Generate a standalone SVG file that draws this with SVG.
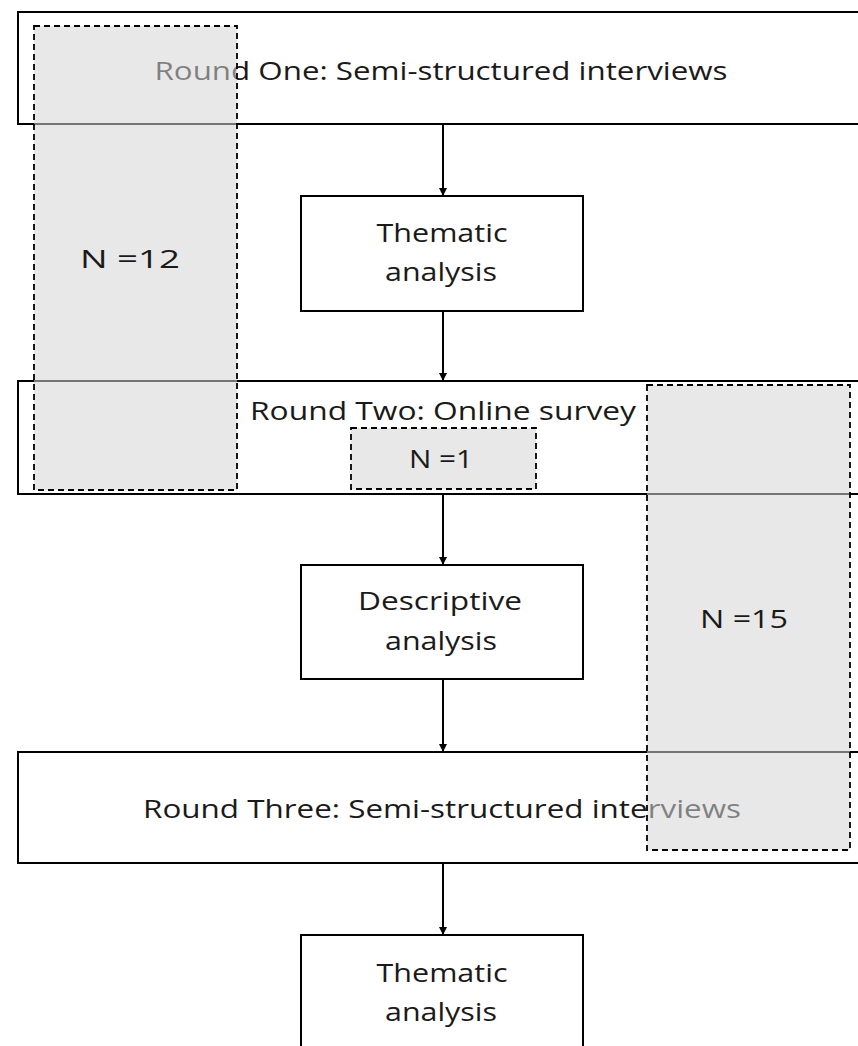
<svg xmlns="http://www.w3.org/2000/svg" width="858" height="1046" viewBox="0 0 858 1046">
<style>
.box{fill:#fff;stroke:#000;stroke-width:2}
.grp{fill:#d6d6d6;fill-opacity:0.55;stroke:#000;stroke-width:1.8;stroke-dasharray:6 4}
.t{font-family:"Open Sans","Liberation Sans",sans-serif;font-size:26px;fill:#1a1a1a;text-anchor:middle}
.ln{stroke:#000;stroke-width:2;fill:none}
</style>
<defs>
<marker id="ah" markerWidth="8" markerHeight="8" refX="7" refY="4" orient="auto" markerUnits="userSpaceOnUse">
<path d="M0,0 L8,4 L0,8 Z" fill="#000"/>
</marker>
</defs>
<rect width="858" height="1046" fill="#fff"/>
<g id="connectors">
<line class="ln" x1="443" y1="124" x2="443" y2="195" marker-end="url(#ah)"/>
<line class="ln" x1="443" y1="311" x2="443" y2="380" marker-end="url(#ah)"/>
<line class="ln" x1="443" y1="494" x2="443" y2="564" marker-end="url(#ah)"/>
<line class="ln" x1="443" y1="679" x2="443" y2="751" marker-end="url(#ah)"/>
<line class="ln" x1="443" y1="863" x2="443" y2="934" marker-end="url(#ah)"/>
</g>
<g id="round1">
<rect class="box" x="18" y="12" width="850" height="112"/>
<text class="t" x="441" y="80" textLength="573" lengthAdjust="spacingAndGlyphs">Round One: Semi-structured interviews</text>
</g>
<g id="thematic1">
<rect class="box" x="301" y="196" width="282" height="115"/>
<text class="t" x="442" y="242" textLength="131" lengthAdjust="spacingAndGlyphs">Thematic</text>
<text class="t" x="441" y="281" textLength="112" lengthAdjust="spacingAndGlyphs">analysis</text>
</g>
<g id="round2">
<rect class="box" x="18" y="381" width="850" height="113"/>
<text class="t" x="443" y="420" textLength="386" lengthAdjust="spacingAndGlyphs">Round Two: Online survey</text>
</g>
<g id="descriptive">
<rect class="box" x="301" y="565" width="282" height="114"/>
<text class="t" x="440" y="610" textLength="164" lengthAdjust="spacingAndGlyphs">Descriptive</text>
<text class="t" x="441" y="650" textLength="112" lengthAdjust="spacingAndGlyphs">analysis</text>
</g>
<g id="round3">
<rect class="box" x="18" y="752" width="850" height="111"/>
<text class="t" x="442" y="818" textLength="598" lengthAdjust="spacingAndGlyphs">Round Three: Semi-structured interviews</text>
</g>
<g id="thematic2">
<rect class="box" x="301" y="935" width="282" height="130"/>
<text class="t" x="442" y="982" textLength="131" lengthAdjust="spacingAndGlyphs">Thematic</text>
<text class="t" x="441" y="1021" textLength="112" lengthAdjust="spacingAndGlyphs">analysis</text>
</g>
<g id="n12">
<rect class="grp" x="34" y="26" width="203" height="464"/>
<text class="t" x="130" y="268" textLength="100" lengthAdjust="spacingAndGlyphs">N =12</text>
</g>
<g id="n1">
<rect class="grp" x="351" y="428" width="185" height="61"/>
<text class="t" x="441" y="468" textLength="64" lengthAdjust="spacingAndGlyphs">N =1</text>
</g>
<g id="n15">
<rect class="grp" x="647" y="385" width="203" height="465"/>
<text class="t" x="744" y="628" textLength="88" lengthAdjust="spacingAndGlyphs">N =15</text>
</g>
</svg>
